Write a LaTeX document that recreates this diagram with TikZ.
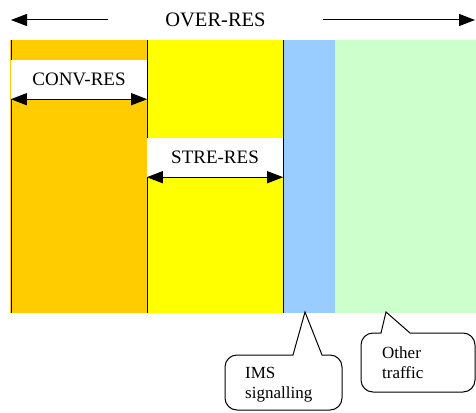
\documentclass[tikz,border=0pt]{standalone}
\usepackage{fontspec}
\setmainfont{Liberation Serif}
\usetikzlibrary{arrows.meta}
\definecolor{convcol}{HTML}{FFCC00}
\definecolor{strecol}{HTML}{FFFF00}
\definecolor{imscol}{HTML}{99CCFF}
\definecolor{othercol}{HTML}{CCFFCC}
\tikzset{
  >={Triangle[length=16pt,width=12pt]}, % big filled arrow heads
  x=1pt, y=-1pt, % picture coordinates in pixels, y going down
  label box/.style={fill=white, inner sep=0pt, font=\fontsize{19}{21}\selectfont}, % white boxes over the bands
  res arrow/.style={line width=1pt},
  bubble/.style={line width=1pt, fill=white},
  bubble text/.style={inner sep=0pt, align=left, anchor=base west, font=\fontsize{17}{19.5}\selectfont},
}

\begin{document}
\begin{tikzpicture}
      \useasboundingbox (0,0) rectangle (476,412);

      % the four bands
      \fill[convcol] (10,40) rectangle (147,313);
      \fill[strecol] (147,40) rectangle (283,313);
      \fill[imscol] (283,40) rectangle (335,313);
      \fill[othercol] (335,40) rectangle (476,313);
      \foreach \x in {11,147,283}
        \draw[line width=1pt] (\x,40) -- (\x,313);

      % overall arrow
      \node[label box, minimum width=215, minimum height=40, font=\fontsize{20.5}{22}\selectfont] (over) at (215.5,20) {OVER-RES};
      \coordinate (overL) at (11,20);
      \coordinate (overR) at (475,20);
      \draw[res arrow, ->] (over.west) -- (overL);
      \draw[res arrow, ->] (over.east) -- (overR);

      % conversational and streaming
      \node[label box, minimum width=136, minimum height=39] (conv) at (79,79.5) {CONV-RES};
      \draw[res arrow, <->] (conv.south west) -- (conv.south east);
      \node[label box, minimum width=136, minimum height=39] (stre) at (215,157.5) {STRE-RES};
      \draw[res arrow, <->] (stre.south west) -- (stre.south east);

      % callouts
      \draw[bubble] (305,312) -- (293,355) [rounded corners=12pt] -- (225,355) -- (225,410) -- (342,410) -- (342,355) [sharp corners] -- (322,355) -- cycle;
      \node[bubble text] (ims) at (245,398) {IMS\\signalling};
      \draw[bubble] (386,312) -- (381,333) [rounded corners=12pt] -- (361,333) -- (361,392) -- (475,392) -- (475,333) [sharp corners] -- (410,333) -- cycle;
      \node[bubble text] (other) at (382,378) {Other\\traffic};
\end{tikzpicture}
\end{document}
